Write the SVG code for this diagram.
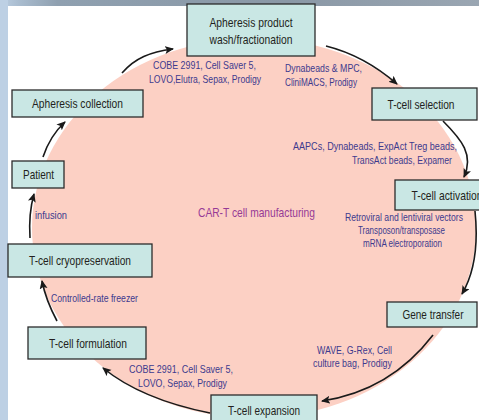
<svg xmlns="http://www.w3.org/2000/svg" width="479" height="420" viewBox="0 0 479 420">
<defs>
<linearGradient id="topbar" x1="0" y1="0" x2="1" y2="0">
<stop offset="0" stop-color="#bccfe3"/>
<stop offset="0.04" stop-color="#a9bccf"/>
<stop offset="0.12" stop-color="#8fa0b0"/>
<stop offset="0.6" stop-color="#8a98a6"/>
<stop offset="1" stop-color="#9aa6b2"/>
</linearGradient>
<marker id="ah" markerWidth="10" markerHeight="10" refX="8" refY="4" orient="auto" markerUnits="userSpaceOnUse">
<path d="M0,0 L9,4 L0,8 L2,4 Z" fill="#1a1a1a"/>
</marker>
<style>
.box{fill:#c9e7e4;stroke:#2b2b2b;stroke-width:1.3}
.lbl{font-family:"Liberation Sans",Arial,sans-serif;font-size:13px;fill:#231f20;text-anchor:middle}
.ann{font-family:"Liberation Sans",Arial,sans-serif;font-size:11.5px;fill:#3d3a8e}
.title{font-family:"Liberation Sans",Arial,sans-serif;font-size:13px;fill:#963a96;text-anchor:middle}
.conn{fill:none;stroke:#1a1a1a;stroke-width:1.6;marker-end:url(#ah)}
</style>
</defs>
<rect x="0" y="0" width="479" height="420" fill="#ffffff"/>
<ellipse cx="254" cy="228" rx="222" ry="190" fill="#fcd0c4"/>
<rect x="0" y="0" width="479" height="6" fill="url(#topbar)"/>
<rect x="0" y="0" width="8" height="420" fill="#bdd0e4"/>

<g id="connectors">
<path class="conn" d="M122,73 C135,58 150,52 173,49"/>
<path class="conn" d="M326,46 C350,52 375,65 397,84"/>
<path class="conn" d="M443,121 C462,140 474,155 464,177"/>
<path class="conn" d="M475,211 C478,240 476,270 462,294"/>
<path class="conn" d="M433,335 C410,365 375,393 322,401"/>
<path class="conn" d="M210,413 C170,405 130,390 103,368"/>
<path class="conn" d="M57,321 C50,308 45,296 42,281"/>
<path class="conn" d="M30,238 C29,222 30,208 34,194"/>
<path class="conn" d="M43,157 C47,145 53,133 65,122"/>
</g>

<g id="apheresis-product">
<rect class="box" x="187" y="4" width="128" height="52"/>
<text class="lbl" x="251" y="27" textLength="83" lengthAdjust="spacingAndGlyphs">Apheresis product</text>
<text class="lbl" x="251" y="44" textLength="83" lengthAdjust="spacingAndGlyphs">wash/fractionation</text>
</g>
<g id="t-cell-selection">
<rect class="box" x="372" y="88" width="105" height="32"/>
<text class="lbl" x="421" y="109" textLength="67" lengthAdjust="spacingAndGlyphs">T-cell selection</text>
</g>
<g id="t-cell-activation">
<rect class="box" x="395" y="180" width="104" height="30"/>
<text class="lbl" x="447" y="200" textLength="71" lengthAdjust="spacingAndGlyphs">T-cell activation</text>
</g>
<g id="gene-transfer">
<rect class="box" x="387" y="302" width="90" height="25"/>
<text class="lbl" x="433" y="319" textLength="61" lengthAdjust="spacingAndGlyphs">Gene transfer</text>
</g>
<g id="t-cell-expansion">
<rect class="box" x="211" y="395" width="106" height="30"/>
<text class="lbl" x="264" y="415" textLength="72" lengthAdjust="spacingAndGlyphs">T-cell expansion</text>
</g>
<g id="t-cell-formulation">
<rect class="box" x="28" y="327" width="118" height="32"/>
<text class="lbl" x="88" y="348" textLength="78" lengthAdjust="spacingAndGlyphs">T-cell formulation</text>
</g>
<g id="t-cell-cryopreservation">
<rect class="box" x="8" y="244" width="144" height="33"/>
<text class="lbl" x="80" y="265" textLength="102" lengthAdjust="spacingAndGlyphs">T-cell cryopreservation</text>
</g>
<g id="patient">
<rect class="box" x="12" y="161" width="52" height="27"/>
<text class="lbl" x="38.5" y="179" textLength="31" lengthAdjust="spacingAndGlyphs">Patient</text>
</g>
<g id="apheresis-collection">
<rect class="box" x="12" y="90" width="131" height="27"/>
<text class="lbl" x="77.5" y="108" textLength="91" lengthAdjust="spacingAndGlyphs">Apheresis collection</text>
</g>

<g id="labels">
<text class="title" x="256.5" y="217" textLength="117" lengthAdjust="spacingAndGlyphs">CAR-T cell manufacturing</text>
<text class="ann" x="204.5" y="69" text-anchor="middle" textLength="103" lengthAdjust="spacingAndGlyphs">COBE 2991, Cell Saver 5,</text>
<text class="ann" x="205" y="83" text-anchor="middle" textLength="112" lengthAdjust="spacingAndGlyphs">LOVO,Elutra, Sepax, Prodigy</text>
<text class="ann" x="285" y="72" textLength="77" lengthAdjust="spacingAndGlyphs">Dynabeads &amp; MPC,</text>
<text class="ann" x="285" y="86" textLength="72" lengthAdjust="spacingAndGlyphs">CliniMACS, Prodigy</text>
<text class="ann" x="293" y="150" textLength="164" lengthAdjust="spacingAndGlyphs">AAPCs, Dynabeads, ExpAct Treg beads,</text>
<text class="ann" x="352" y="164" textLength="100" lengthAdjust="spacingAndGlyphs">TransAct beads, Expamer</text>
<text class="ann" x="345" y="221" textLength="118" lengthAdjust="spacingAndGlyphs">Retroviral and lentiviral vectors</text>
<text class="ann" x="358" y="234" textLength="87" lengthAdjust="spacingAndGlyphs">Transposon/transposase</text>
<text class="ann" x="363" y="247" textLength="79" lengthAdjust="spacingAndGlyphs">mRNA electroporation</text>
<text class="ann" x="317" y="354" textLength="75" lengthAdjust="spacingAndGlyphs">WAVE, G-Rex, Cell</text>
<text class="ann" x="313" y="367" textLength="79" lengthAdjust="spacingAndGlyphs">culture bag, Prodigy</text>
<text class="ann" x="129" y="373" textLength="104" lengthAdjust="spacingAndGlyphs">COBE 2991, Cell Saver 5,</text>
<text class="ann" x="138" y="387" textLength="89" lengthAdjust="spacingAndGlyphs">LOVO, Sepax, Prodigy</text>
<text class="ann" x="51" y="302" textLength="87" lengthAdjust="spacingAndGlyphs">Controlled-rate freezer</text>
<text class="ann" x="35" y="219" textLength="32" lengthAdjust="spacingAndGlyphs">infusion</text>
</g>
</svg>
